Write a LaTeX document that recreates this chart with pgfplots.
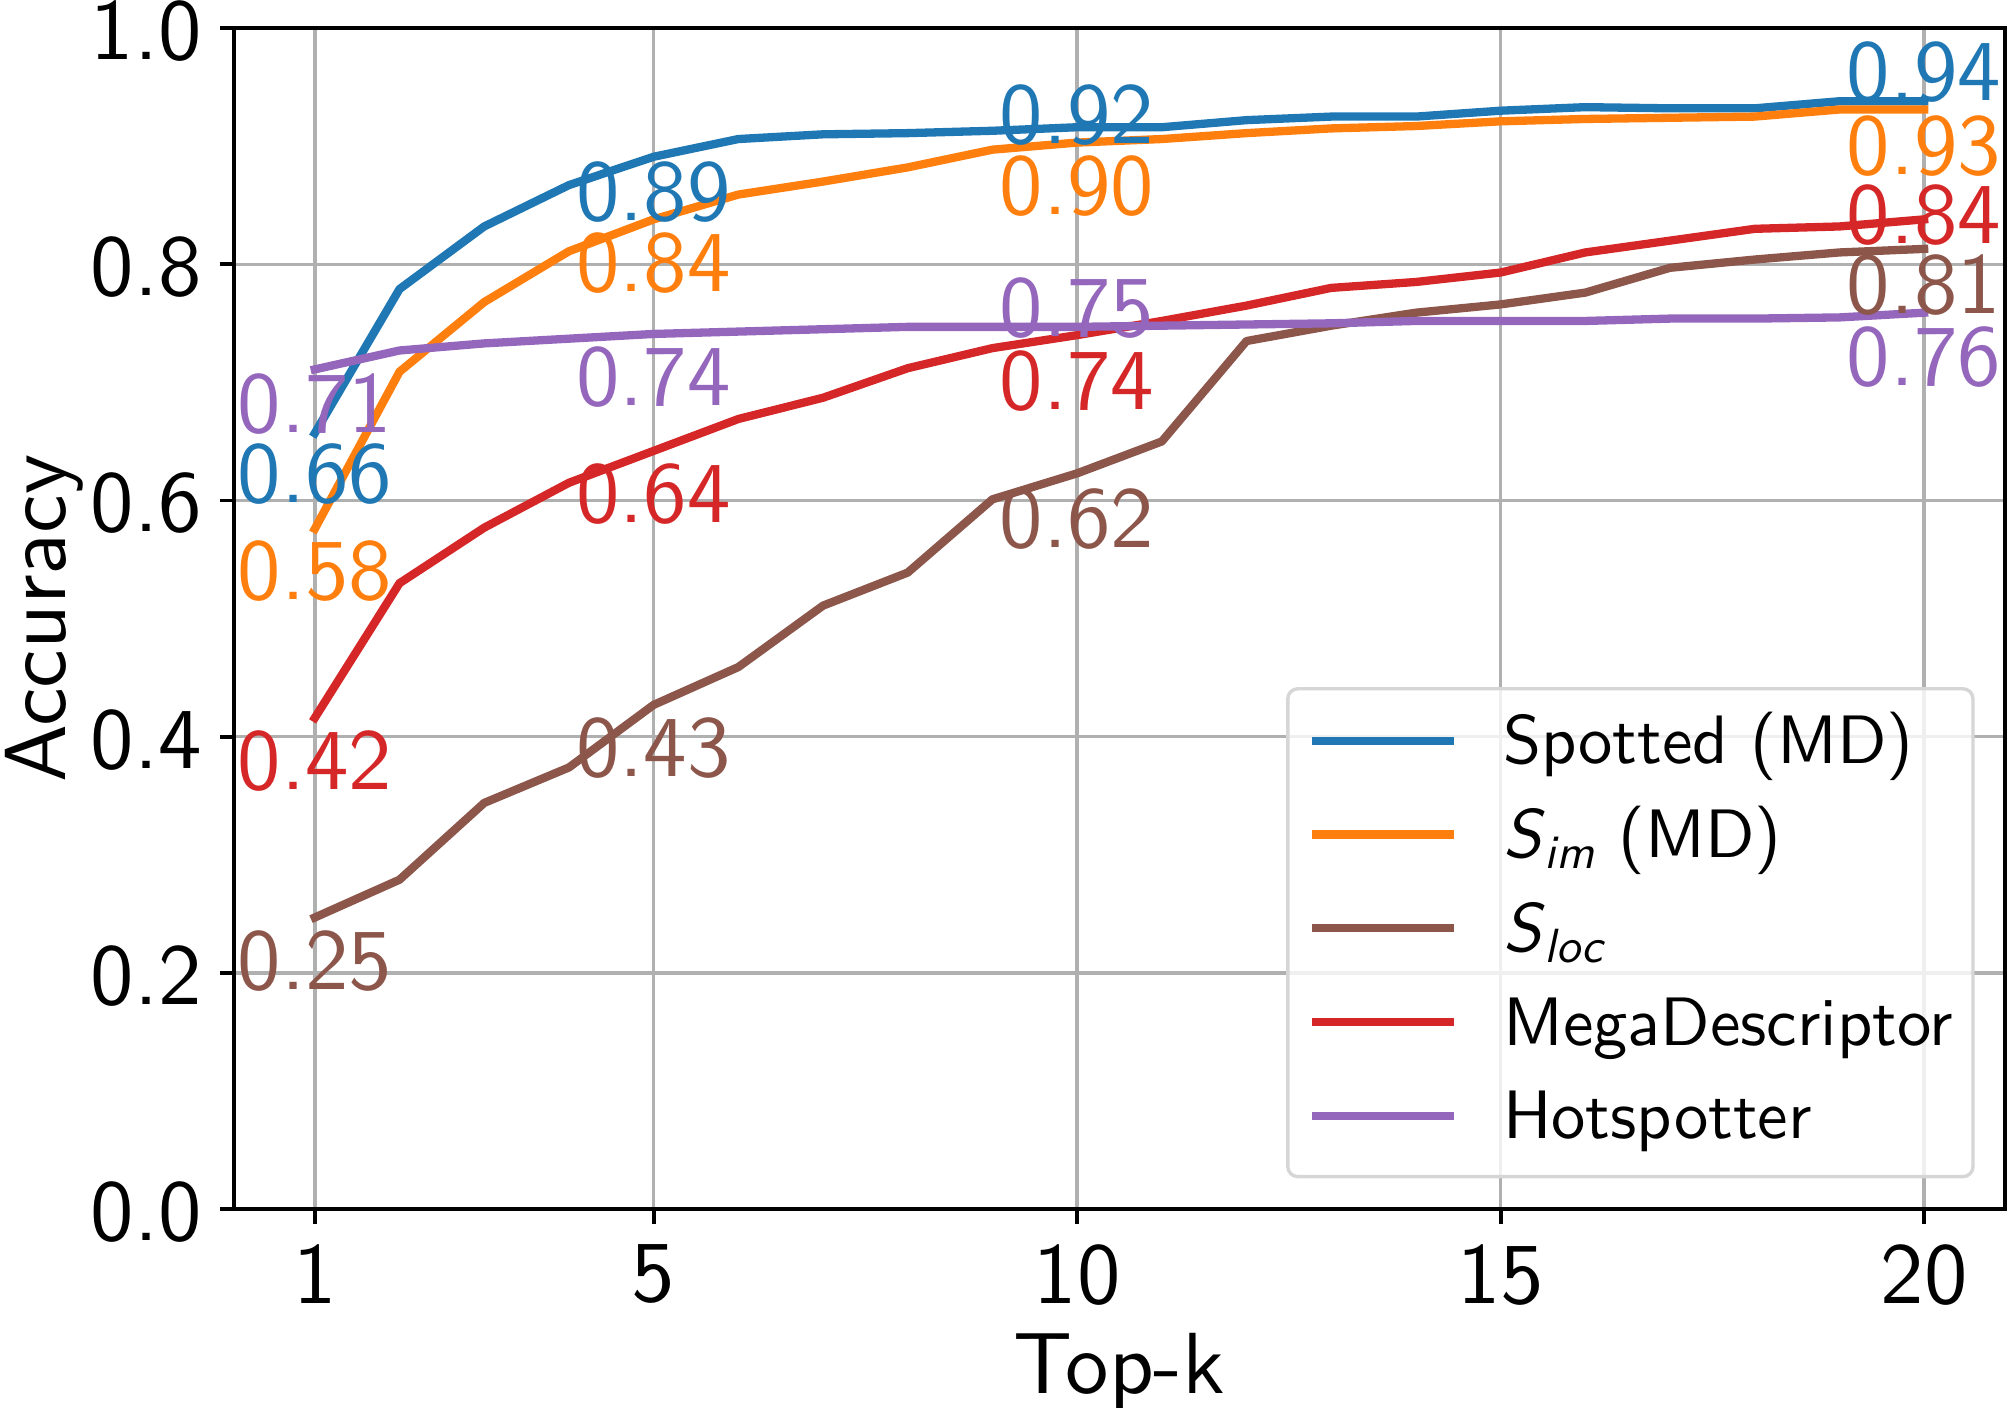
\documentclass[border=0pt]{standalone}
\usepackage{pgfplots}
\usepackage{pgfplotstable}
\pgfplotsset{compat=1.18}

% Latin Modern Sans at its 10pt design size for every text size
\DeclareFontFamily{TU}{lmssx}{}
\DeclareFontShape{TU}{lmssx}{m}{n}{<-> "[lmsans10-regular]:+tlig;"}{}
\DeclareFontShape{TU}{lmssx}{m}{it}{<-> "[lmsans10-oblique]:+tlig;"}{}
\DeclareFontShape{TU}{lmssx}{m}{sl}{<-> ssub * lmssx/m/it}{}
\renewcommand{\sfdefault}{lmssx}
\renewcommand{\familydefault}{\sfdefault}

\definecolor{cblue}{HTML}{1F77B4}
\definecolor{corange}{HTML}{FF7F0E}
\definecolor{cbrown}{HTML}{8C564B}
\definecolor{cred}{HTML}{D62728}
\definecolor{cpurple}{HTML}{9467BD}
\definecolor{gridgray}{HTML}{B0B0B0}
\definecolor{framegray}{HTML}{D6D6D6}

\newcommand{\bigfont}{\fontsize{24.7}{29.6}\selectfont}
\newcommand{\legfont}{\fontsize{19.5}{23.4}\selectfont}

% top-k accuracy of each method; the o* columns hold the vertical
% offsets (mm) of the value labels printed at k = 1, 5, 10, 20
\pgfplotstableread{
k  spotted sim   sloc  mega  hot   oSp   oSim  oLoc  oMega oHot
1  0.657   0.576 0.247 0.416 0.711 -0.98 -1.06 -1.25 -1.22 -0.35
2  0.779   0.709 0.279 0.530 0.727 0 0 0 0 0
3  0.832   0.768 0.344 0.577 0.733 0 0 0 0 0
4  0.867   0.811 0.374 0.615 0.737 0 0 0 0 0
5  0.891   0.838 0.427 0.642 0.741 -0.39 -1.28 -1.22 -1.18 -1.25
6  0.906   0.859 0.459 0.669 0.743 0 0 0 0 0
7  0.910   0.870 0.511 0.687 0.745 0 0 0 0 0
8  0.911   0.882 0.539 0.712 0.747 0 0 0 0 0
9  0.913   0.897 0.601 0.729 0.747 0 0 0 0 0
10 0.916   0.903 0.623 0.740 0.747 4.35 -1.27 -1.43 -1.49 5.0
11 0.916   0.906 0.650 0.752 0.748 0 0 0 0 0
12 0.922   0.911 0.735 0.765 0.749 0 0 0 0 0
13 0.925   0.915 0.748 0.780 0.750 0 0 0 0 0
14 0.925   0.917 0.759 0.785 0.752 0 0 0 0 0
15 0.930   0.921 0.766 0.793 0.752 0 0 0 0 0
16 0.933   0.923 0.776 0.810 0.752 0 0 0 0 0
17 0.932   0.924 0.797 0.820 0.754 0 0 0 0 0
18 0.932   0.925 0.804 0.830 0.754 0 0 0 0 0
19 0.938   0.931 0.810 0.832 0.755 0 0 0 0 0
20 0.938   0.931 0.813 0.838 0.759 6.0 -0.5 -0.53 3.5 -1.31
}\acc

% value labels at k = 1, 5, 10, 20 for one column: #1 data, #2 offsets (mm), #3 colour
% (the y axis is 118.15 mm long, so an offset of d mm is d/118.15 in data units)
\newcommand{\valuelabels}[3]{%
  \addplot[draw=none, no marks, forget plot,
    skip coords between index={1}{4},
    skip coords between index={5}{9},
    skip coords between index={10}{19},
    point meta=\thisrow{#1},
    nodes near coords={\pgfmathprintnumber[fixed,precision=2,fixed zerofill,assume math mode=true]{\pgfplotspointmeta}},
    nodes near coords style={font=\bigfont, text=#3, anchor=north, inner sep=0pt},
  ] table[x=k, y expr={\thisrow{#1}+\thisrow{#2}/118.15}] {\acc};
}

\begin{document}
\begin{tikzpicture}
\begin{axis}[
  scale only axis,
  width=177.06mm, height=118.15mm,
  xmin=0.05, xmax=20.95, ymin=0, ymax=1,
  xtick={1,5,10,15,20},
  ytick={0,0.2,0.4,0.6,0.8,1},
  clip=false,
  tick pos=left,
  tick align=outside,
  major tick length=1.47mm,
  tick style={black, line width=0.38mm},
  axis line style={black, line width=0.38mm},
  grid=major,
  grid style={gridgray, line width=0.34mm},
  /pgf/number format/assume math mode=true,
  ticklabel style={font=\bigfont},
  yticklabel style={/pgf/number format/fixed, /pgf/number format/precision=1,
    /pgf/number format/fixed zerofill, anchor=east, inner sep=0pt, xshift=-1.73mm, yshift=-0.3mm},
  xticklabel style={anchor=north, inner sep=0pt, yshift=-2.03mm},
  xlabel={Top-k},
  ylabel={Accuracy},
  label style={font=\bigfont},
  xlabel style={at={(axis description cs:0.5,-0.1558)}, anchor=base, inner sep=0pt},
  ylabel style={at={(axis description cs:-0.0955,0.5)}, anchor=base, inner sep=0pt},
  legend cell align=left,
  legend image code/.code={\draw[#1, line width=0.83mm, line cap=butt] (0mm,0.45mm) -- (14.2mm,0.45mm);},
  legend style={
    at={(axis description cs:0.9831,0.0262)}, anchor=south east,
    font=\legfont,
    draw=framegray, line width=0.34mm,
    fill=white, fill opacity=0.8, text opacity=1,
    rounded corners=1mm,
    inner xsep=2.0mm, inner ysep=0.96mm,
    row sep=0pt, column sep=4.5mm,
    nodes={inner sep=0pt, text height=6.55mm, text depth=2.825mm},
  },
]
\addplot[cblue, line width=0.83mm, line cap=rect, line join=round] table[x=k, y=spotted] {\acc};
\addlegendentry{Spotted (MD)}
\addplot[corange, line width=0.83mm, line cap=rect, line join=round] table[x=k, y=sim] {\acc};
\addlegendentry{\textit{S}\textsubscript{\textit{im}} (MD)}
\addplot[cbrown, line width=0.83mm, line cap=rect, line join=round] table[x=k, y=sloc] {\acc};
\addlegendentry{\textit{S}\textsubscript{\textit{loc}}}
\addplot[cred, line width=0.83mm, line cap=rect, line join=round] table[x=k, y=mega] {\acc};
\addlegendentry{MegaDescriptor}
\addplot[cpurple, line width=0.83mm, line cap=rect, line join=round] table[x=k, y=hot] {\acc};
\addlegendentry{Hotspotter}

\valuelabels{spotted}{oSp}{cblue}
\valuelabels{sim}{oSim}{corange}
\valuelabels{sloc}{oLoc}{cbrown}
\valuelabels{mega}{oMega}{cred}
\valuelabels{hot}{oHot}{cpurple}
\end{axis}
\pgfresetboundingbox
\useasboundingbox (-23.44mm,-19.8mm) rectangle (177.4mm,120.95mm);
\end{tikzpicture}
\end{document}
